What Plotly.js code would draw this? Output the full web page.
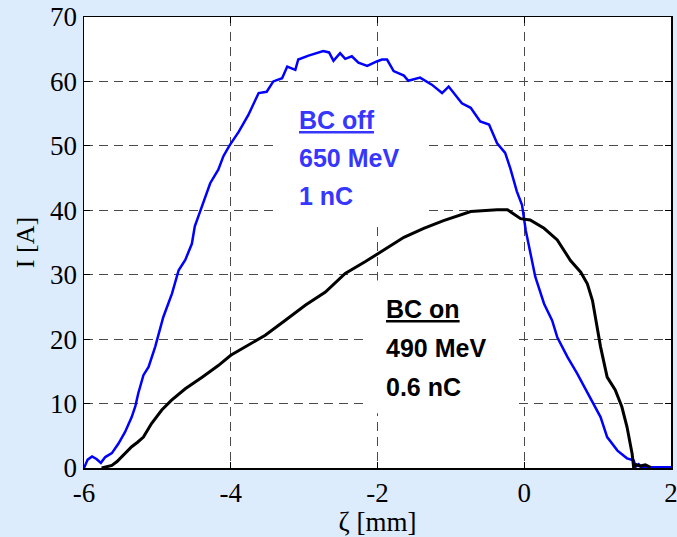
<!DOCTYPE html>
<html>
<head>
<meta charset="utf-8">
<script src="https://cdn.plot.ly/plotly-3.0.1.min.js"></script>
<style>html,body{margin:0;padding:0;background:#ddecfc;}</style>
</head>
<body>
<div id="chart" style="width:677px;height:537px;"></div>
<script>
// BC off (650 MeV, 1 nC) current profile
const bcOffZeta = [-6.0, -5.95, -5.89, -5.83, -5.77, -5.71, -5.62, -5.53, -5.44, -5.35, -5.30, -5.26, -5.19, -5.12, -5.03, -4.92, -4.80, -4.71, -4.62, -4.53, -4.49, -4.42, -4.35, -4.28, -4.17, -4.10, -4.02, -3.95, -3.89, -3.76, -3.69, -3.62, -3.51, -3.42, -3.30, -3.23, -3.12, -3.08, -2.94, -2.84, -2.74, -2.66, -2.60, -2.51, -2.44, -2.35, -2.26, -2.14, -2.06, -2.01, -1.94, -1.87, -1.78, -1.64, -1.58, -1.42, -1.26, -1.12, -1.03, -0.85, -0.73, -0.60, -0.48, -0.37, -0.26, -0.19, -0.10, -0.03, 0.02, 0.08, 0.15, 0.27, 0.38, 0.45, 0.59, 0.72, 0.90, 1.04, 1.13, 1.27, 1.40, 1.49, 1.52, 1.56, 1.60, 2.0];
const bcOffI = [0, 1.3, 1.8, 1.4, 0.8, 1.7, 2.3, 3.8, 5.6, 7.9, 9.6, 11.6, 14.4, 15.7, 18.8, 23.4, 27.1, 30.7, 32.3, 34.8, 37.5, 39.8, 42.0, 44.2, 46.3, 48.4, 50.0, 51.2, 52.2, 54.8, 56.6, 58.2, 58.4, 60.0, 60.5, 62.3, 61.8, 63.4, 64.0, 64.3, 64.7, 64.5, 63.2, 64.4, 63.5, 63.9, 62.9, 62.4, 62.9, 63.1, 63.4, 63.4, 61.6, 60.9, 60.1, 60.6, 59.5, 58.2, 59.2, 56.6, 55.9, 53.8, 53.3, 50.4, 48.9, 46.5, 42.9, 40.8, 36.9, 33.3, 29.7, 25.5, 22.9, 20.3, 17.2, 14.7, 11.0, 7.9, 4.8, 2.7, 1.5, 1.2, 0.2, 0.6, 0.1, 0.1];

// BC on (490 MeV, 0.6 nC) current profile
const bcOnZeta = [-5.76, -5.69, -5.62, -5.55, -5.49, -5.42, -5.35, -5.27, -5.19, -5.08, -4.94, -4.81, -4.62, -4.39, -4.17, -4.0, -3.80, -3.53, -3.26, -2.98, -2.71, -2.44, -2.17, -1.94, -1.64, -1.37, -1.10, -0.73, -0.50, -0.37, -0.23, -0.10, -0.05, 0.08, 0.27, 0.45, 0.63, 0.77, 0.86, 0.93, 0.99, 1.04, 1.13, 1.24, 1.33, 1.40, 1.47, 1.49, 1.53, 1.58, 1.65, 1.72];
const bcOnI = [0, 0.2, 0.4, 1.0, 1.7, 2.4, 3.3, 4.0, 4.8, 6.9, 9.0, 10.5, 12.3, 14.1, 15.9, 17.5, 18.8, 20.6, 22.9, 25.3, 27.3, 30.2, 32.0, 33.6, 35.8, 37.2, 38.4, 39.8, 40.0, 40.1, 40.1, 39.0, 38.7, 38.5, 37.2, 35.4, 32.2, 30.4, 28.6, 26.0, 21.9, 18.8, 14.1, 12.1, 9.5, 6.4, 2.2, 0.2, 0.5, 0.3, 0.5, 0.1];

const xTicks = [-6, -4, -2, 0, 2];
const yTicks = [0, 10, 20, 30, 40, 50, 60, 70];
const offLabels = ['<u>BC off</u>', '650 MeV', '1 nC'];
const onLabels = ['<u>BC on</u>', '490 MeV', '0.6 nC'];

const traces = [
  {x: bcOffZeta, y: bcOffI, type: 'scatter', mode: 'lines', line: {color: '#0000ff', width: 2.5}, hoverinfo: 'skip'},
  {x: bcOnZeta, y: bcOnI, type: 'scatter', mode: 'lines', line: {color: '#000000', width: 3}, hoverinfo: 'skip'}
];

const labelFont = {family: 'Liberation Sans, Arial, sans-serif', size: 25, weight: 'bold'};
const annotations = [];
const offY = [54.0, 48.1, 42.2];
const onY = [24.7, 18.6, 12.6];
offLabels.forEach((t, i) => annotations.push({x: -3.10, y: offY[i], xref: 'x', yref: 'y', text: '<b>' + t + '</b>', showarrow: false, xanchor: 'left', yanchor: 'middle', font: Object.assign({}, labelFont, {color: '#3636ff'})}));
onLabels.forEach((t, i) => annotations.push({x: -1.91, y: onY[i], xref: 'x', yref: 'y', text: '<b>' + t + '</b>', showarrow: false, xanchor: 'left', yanchor: 'middle', font: Object.assign({}, labelFont, {color: '#000000'})}));

const serif = 'Liberation Serif, Times New Roman, serif';
const axisCommon = {
  showline: true, mirror: 'ticks', linecolor: '#000', linewidth: 1.5,
  ticks: 'inside', ticklen: 6, tickcolor: '#000', tickwidth: 1,
  showgrid: true, gridcolor: '#4a4a4a', gridwidth: 1, griddash: '9px,6px',
  zeroline: false, tickfont: {family: serif, size: 27, color: '#000'},
  ticklabeloverflow: 'allow'
};

const layout = {
  width: 677, height: 537,
  margin: {l: 84, r: 6, t: 17, b: 69},
  paper_bgcolor: '#ddecfc', plot_bgcolor: '#ffffff',
  showlegend: false,
  xaxis: Object.assign({}, axisCommon, {range: [-6, 2], tickvals: xTicks, ticktext: xTicks.map(String),
    title: {text: 'ζ [mm]', font: {family: serif, size: 27, color: '#000'}, standoff: 2}}),
  yaxis: Object.assign({}, axisCommon, {range: [0, 70], tickvals: yTicks, ticktext: yTicks.map(String),
    title: {text: 'I [A]', font: {family: serif, size: 26, color: '#000'}, standoff: 8}}),
  shapes: [
    {type: 'rect', xref: 'x', yref: 'y', x0: -3.37, x1: -1.38, y0: 38.0, y1: 59.4, fillcolor: '#ffffff', line: {width: 0}, layer: 'between'},
    {type: 'rect', xref: 'x', yref: 'y', x0: -2.17, x1: -0.12, y0: 8.5, y1: 29.1, fillcolor: '#ffffff', line: {width: 0}, layer: 'between'}
  ],
  annotations: annotations
};

Plotly.newPlot('chart', traces, layout, {displayModeBar: false, staticPlot: true});
</script>
</body>
</html>
